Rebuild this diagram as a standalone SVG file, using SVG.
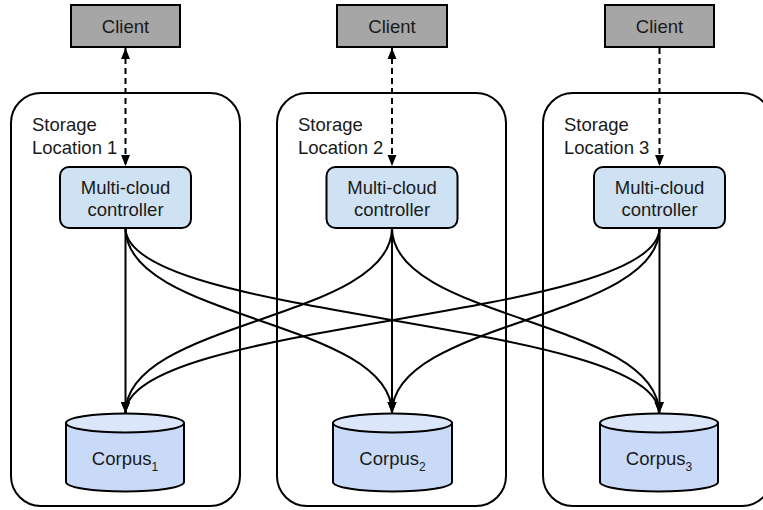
<svg xmlns="http://www.w3.org/2000/svg" width="763" height="510" viewBox="0 0 763 510">
<style>
  text { font-family: "Liberation Sans", Arial, sans-serif; font-size: 18.5px; fill: #1a1a1a; }
  .loc { fill: #ffffff; stroke: #000; stroke-width: 2; }
  .client { fill: #a6a6a6; stroke: #000; stroke-width: 2; }
  .ctrl { fill: #cfe2f3; stroke: #000; stroke-width: 2; }
  .body { fill: #c9daf8; stroke: #000; stroke-width: 2; }
  .top { fill: #dce6fb; stroke: #000; stroke-width: 2; }
  .edge { fill: none; stroke: #000; stroke-width: 2; marker-end: url(#arr); }
  .dash { fill: none; stroke: #000; stroke-width: 2; stroke-dasharray: 6 4; }
  .sub { font-size: 12px; }
</style>
<defs>
  <marker id="arr" markerUnits="userSpaceOnUse" markerWidth="12" markerHeight="12" viewBox="0 0 12 12" refX="11" refY="6" orient="auto">
    <path d="M0,1.5 L11,6 L0,10.5 Z" fill="#000"/>
  </marker>
  <marker id="arrs" markerUnits="userSpaceOnUse" markerWidth="12" markerHeight="12" viewBox="0 0 12 12" refX="1" refY="6" orient="auto">
    <path d="M12,1.5 L1,6 L12,10.5 Z" fill="#000"/>
  </marker>
</defs>

<g id="storage1">
  <rect class="loc" x="11" y="93" width="229" height="413" rx="30"/>
  <text x="32" y="131">Storage</text>
  <text x="32" y="153.5">Location 1</text>
</g>
<g id="storage2">
  <rect class="loc" x="277" y="93" width="229" height="413" rx="30"/>
  <text x="298" y="131">Storage</text>
  <text x="298" y="153.5">Location 2</text>
</g>
<g id="storage3">
  <rect class="loc" x="543" y="93" width="229" height="413" rx="30"/>
  <text x="564" y="131">Storage</text>
  <text x="564" y="153.5">Location 3</text>
</g>

<g id="client1">
  <rect class="client" x="71" y="5" width="109" height="42"/>
  <text x="125.5" y="33" text-anchor="middle">Client</text>
</g>
<g id="client2">
  <rect class="client" x="337" y="5" width="110" height="42"/>
  <text x="392" y="33" text-anchor="middle">Client</text>
</g>
<g id="client3">
  <rect class="client" x="605" y="5" width="109" height="42"/>
  <text x="659.5" y="33" text-anchor="middle">Client</text>
</g>

<g id="controller1">
  <rect class="ctrl" x="60" y="167" width="131" height="61" rx="9"/>
  <text x="125.5" y="194" text-anchor="middle">Multi-cloud</text>
  <text x="125.5" y="216" text-anchor="middle">controller</text>
</g>
<g id="controller2">
  <rect class="ctrl" x="326.5" y="167" width="131" height="61" rx="9"/>
  <text x="392" y="194" text-anchor="middle">Multi-cloud</text>
  <text x="392" y="216" text-anchor="middle">controller</text>
</g>
<g id="controller3">
  <rect class="ctrl" x="594" y="167" width="131" height="61" rx="9"/>
  <text x="659.5" y="194" text-anchor="middle">Multi-cloud</text>
  <text x="659.5" y="216" text-anchor="middle">controller</text>
</g>

<g id="corpus1">
  <path class="body" d="M66,423 L66,482 A59,9.5 0 0 0 184,482 L184,423 Z"/>
  <ellipse class="top" cx="125" cy="423" rx="59" ry="9.5"/>
  <text x="125" y="465" text-anchor="middle">Corpus<tspan class="sub" dy="6">1</tspan></text>
</g>
<g id="corpus2">
  <path class="body" d="M333,423 L333,482 A59.5,9.5 0 0 0 452,482 L452,423 Z"/>
  <ellipse class="top" cx="392.5" cy="423" rx="59.5" ry="9.5"/>
  <text x="392.5" y="465" text-anchor="middle">Corpus<tspan class="sub" dy="6">2</tspan></text>
</g>
<g id="corpus3">
  <path class="body" d="M600,423 L600,482 A59,9.5 0 0 0 718,482 L718,423 Z"/>
  <ellipse class="top" cx="659" cy="423" rx="59" ry="9.5"/>
  <text x="659" y="465" text-anchor="middle">Corpus<tspan class="sub" dy="6">3</tspan></text>
</g>

<g id="connectors">
  <path class="dash" d="M125.5,48 L125.5,166" marker-start="url(#arrs)" marker-end="url(#arr)"/>
  <path class="dash" d="M392,48 L392,166" marker-start="url(#arrs)" marker-end="url(#arr)"/>
  <path class="dash" d="M659.5,48 L659.5,166" marker-end="url(#arr)"/>

  <path class="edge" d="M125.5,228 L125.5,413"/>
  <path class="edge" d="M125.5,228 C125.5,320 392,320 392,413"/>
  <path class="edge" d="M125.5,228 C125.5,320 659,320 659,413"/>

  <path class="edge" d="M392,228 L392,413"/>
  <path class="edge" d="M392,228 C392,320 125.5,320 125.5,413"/>
  <path class="edge" d="M392,228 C392,320 659,320 659,413"/>

  <path class="edge" d="M659.5,228 L659.5,413"/>
  <path class="edge" d="M659.5,228 C659.5,320 125.5,320 125.5,413"/>
  <path class="edge" d="M659.5,228 C659.5,320 392,320 392,413"/>
</g>
</svg>
